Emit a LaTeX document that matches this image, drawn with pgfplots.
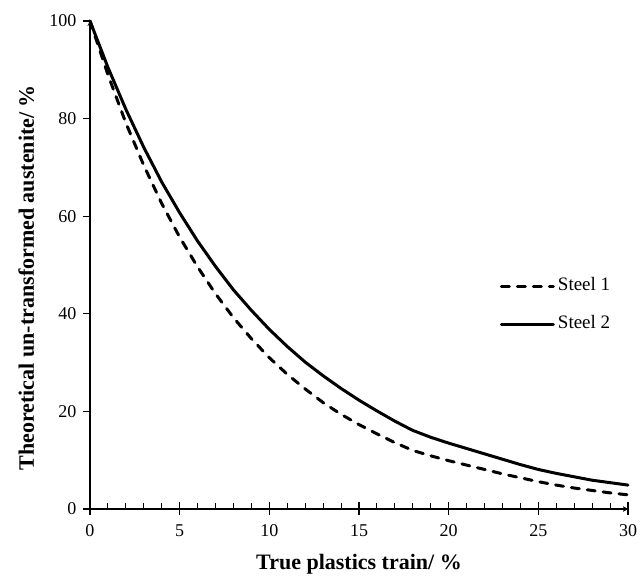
\documentclass[border=0pt]{standalone}
\usepackage{fontspec}
\setmainfont{Liberation Serif}
\usepackage{pgfplots}
\pgfplotsset{compat=1.18}
\begin{document}
\begin{tikzpicture}
\pgfplotsset{
  common/.style={
    scale only axis, width=538pt, height=488pt,
    xmin=0, xmax=30, ymin=0, ymax=100,
    clip=false,
    /pgf/number format/assume math mode=true,
    tick style={black, line width=1.1pt},
    axis line style={-, line width=1.2pt},
  }
}
\begin{axis}[
  common,
  axis lines=left,
  xtick={0,5,...,30}, ytick={0,20,...,100},
  minor x tick num=4,
  xtick align=inside, ytick align=outside,
  major tick length=7pt, minor tick length=6pt,
  tick label style={font=\fontsize{18}{20}\selectfont},
  xticklabel style={yshift=-12pt},
  yticklabel style={xshift=-3pt},
  xlabel={True plastics train/ \%},
  ylabel={Theoretical un-transformed austenite/ \%},
  label style={font=\bfseries\fontsize{22}{24}\selectfont},
  xlabel style={at={(axis description cs:0.5,0)}, anchor=base, yshift=-60pt},
  ylabel style={at={(axis description cs:0,0.474)}, anchor=base, yshift=56pt},
  legend style={draw=none, fill=none, at={(0.762,0.474)}, anchor=north west,
    inner sep=0pt, outer sep=0pt, row sep=21pt, column sep=3pt,
    font=\fontsize{19}{21}\selectfont,
    nodes={inner sep=0pt, text height=13pt, text depth=4pt}},
  legend cell align=left,
  legend image code/.code={\draw[#1] (0pt,0pt) -- (52pt,0pt);},
]
\addplot[black, line width=3pt, line cap=round, dash pattern=on 8pt off 8pt] coordinates {
(0,100) (1,89.0) (2,79.1) (3,70.4) (4,62.6) (5,55.7) (6,49.6) (7,44.1) (8,39.2) (9,34.9)
(10,31.0) (11,27.6) (12,24.6) (13,21.8) (14,19.4) (15,17.3) (16,15.4) (17,13.6) (18,12.0)
(19,10.9) (20,9.9) (21,9.0) (22,8.1) (23,7.2) (24,6.4) (25,5.6) (26,4.9) (27,4.3)
(28,3.8) (29,3.3) (30,2.9)};
\addlegendentry{Steel 1}
\addplot[black, line width=3pt, line cap=round] coordinates {
(0,100) (1,90.5) (2,81.9) (3,74.1) (4,67.0) (5,60.7) (6,54.9) (7,49.7) (8,44.9) (9,40.7)
(10,36.8) (11,33.3) (12,30.1) (13,27.3) (14,24.7) (15,22.3) (16,20.1) (17,18.0) (18,16.1)
(19,14.7) (20,13.5) (21,12.4) (22,11.3) (23,10.2) (24,9.1) (25,8.1) (26,7.3) (27,6.6)
(28,5.9) (29,5.4) (30,4.9)};
\addlegendentry{Steel 2}
\end{axis}
\begin{axis}[
  common,
  axis x line=bottom, hide y axis,
  xtick={0,5,...,30}, xticklabels={},
  minor x tick num=0,
  xtick align=center, major tick length=12pt,
]
\end{axis}
\path ([shift={(-90pt,-65pt)}]current axis.south west) rectangle ([shift={(16pt,21pt)}]current axis.north east);
\end{tikzpicture}
\end{document}
